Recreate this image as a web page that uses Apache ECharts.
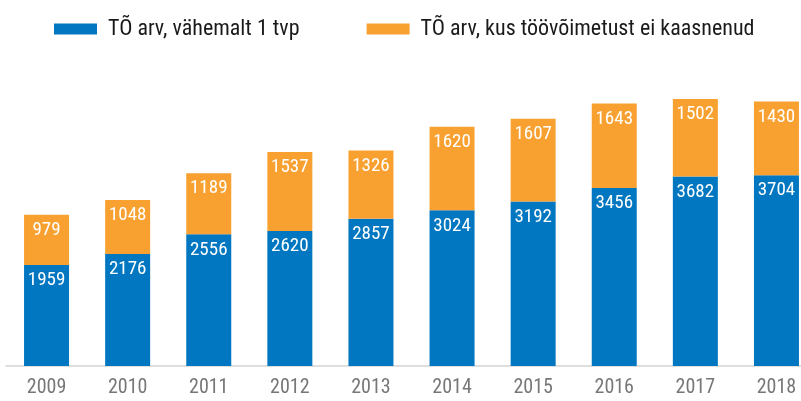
<!DOCTYPE html>
<html>
<head>
<meta charset="utf-8">
<script src="https://cdn.jsdelivr.net/npm/echarts@6/dist/echarts.min.js"></script>
<style>
  html, body { margin: 0; padding: 0; background: #fff; }
  #chart { width: 801px; height: 401px; }
</style>
</head>
<body>
<div id="chart"></div>
<script>
var years = ["2009", "2010", "2011", "2012", "2013", "2014", "2015", "2016", "2017", "2018"];
var vahemalt1tvp = [1959, 2176, 2556, 2620, 2857, 3024, 3192, 3456, 3682, 3704];
var eiKaasnenud = [979, 1048, 1189, 1537, 1326, 1620, 1607, 1643, 1502, 1430];

var font = '"Roboto Condensed", "Liberation Sans Narrow", "Arial Narrow", Roboto, sans-serif';

var chartDom = document.getElementById("chart");
var myChart = echarts.init(chartDom);

var barLabel = {
  show: true,
  position: "insideTop",
  distance: 6,
  color: "#fff",
  fontFamily: font,
  fontSize: 19
};

var option = {
  animation: false,
  textStyle: { fontFamily: font },
  legend: {
    left: 49,
    top: 13,
    itemWidth: 43,
    itemHeight: 11,
    itemGap: 67,
    icon: "rect",
    textStyle: { fontFamily: font, fontSize: 22, color: "#1a1a1a", padding: [0, 0, 0, 6] },
    data: ["TÕ arv, vähemalt 1 tvp", "TÕ arv, kus töövõimetust ei kaasnenud"]
  },
  grid: {
    left: 6,
    top: 57,
    bottom: 35,
    width: 811,
    outerBoundsMode: "none",
    containLabel: false
  },
  xAxis: {
    type: "category",
    data: years,
    axisLine: { lineStyle: { color: "#d4d4d4", width: 1.5 } },
    axisTick: { show: false },
    axisLabel: { color: "#777", fontFamily: font, fontSize: 20, margin: 12 }
  },
  yAxis: {
    type: "value",
    min: 0,
    max: 6000,
    show: false,
    splitLine: { show: false }
  },
  series: [
    {
      name: "TÕ arv, vähemalt 1 tvp",
      type: "bar",
      stack: "total",
      barWidth: 45,
      itemStyle: { color: "#0077c0" },
      label: barLabel,
      data: vahemalt1tvp
    },
    {
      name: "TÕ arv, kus töövõimetust ei kaasnenud",
      type: "bar",
      stack: "total",
      barWidth: 45,
      itemStyle: { color: "#f9a130" },
      label: barLabel,
      data: eiKaasnenud
    }
  ]
};

option && myChart.setOption(option);
</script>
</body>
</html>
